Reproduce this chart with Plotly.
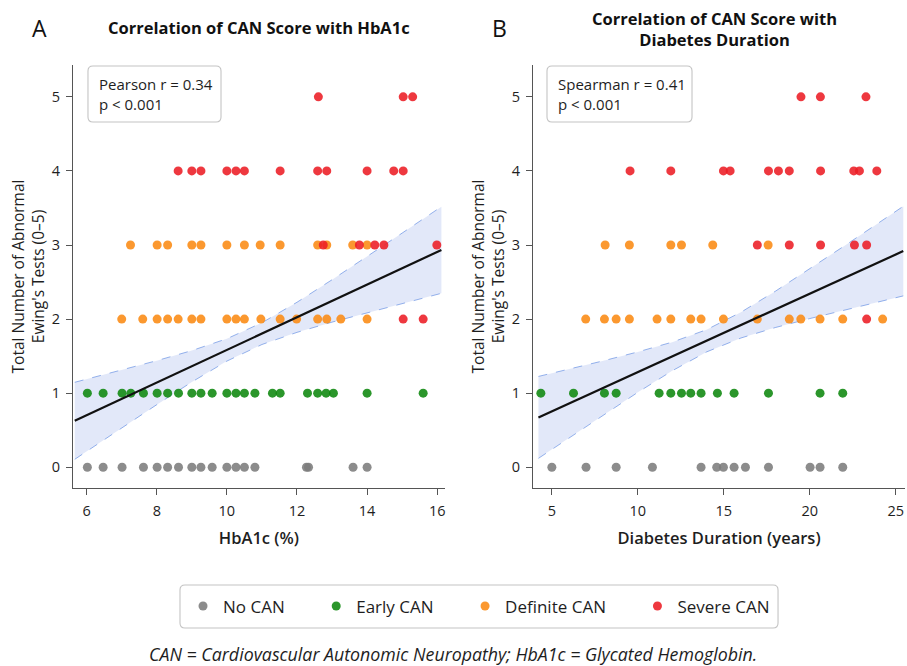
import plotly.graph_objects as go

# ---------------- data ----------------
# Panel A: HbA1c (%) vs number of abnormal Ewing's tests
a_no_can_x = [6.02, 6.47, 7.01, 7.62, 8.01, 8.31, 8.62, 9.0, 9.26, 9.58, 10.0, 10.26, 10.5, 10.8, 12.27, 12.33, 13.6, 14.0]
a_no_can_y = [0] * len(a_no_can_x)

a_early_x = [6.02, 6.47, 7.01, 7.26, 7.62, 8.01, 8.31, 8.62, 9.0, 9.26, 9.58, 10.0, 10.26, 10.5, 10.8, 11.3, 11.52, 12.3, 12.59, 12.83, 13.04, 14.0, 15.6]
a_early_y = [1] * len(a_early_x)

a_def_x = [7.0, 7.6, 8.01, 8.31, 8.61, 9.0, 9.26, 10.0, 10.26, 10.5, 10.97, 11.52, 11.99, 12.59, 12.85, 13.25, 14.0,
           7.25, 8.01, 8.31, 9.0, 9.26, 10.0, 10.5, 10.95, 11.52, 12.59, 12.85, 13.59, 14.0]
a_def_y = [2] * 17 + [3] * 13

a_sev_x = [15.03, 15.6,
           12.75, 13.78, 14.22, 14.48, 15.99,
           8.61, 9.0, 9.26, 10.0, 10.26, 10.5, 11.52, 12.59, 12.85, 14.0, 14.76, 15.03,
           12.61, 15.03, 15.3]
a_sev_y = [2] * 2 + [3] * 5 + [4] * 12 + [5] * 3

# regression line and 95% CI band, panel A
a_fit_x = [5.66, 16.12]
a_fit_y = [0.627, 2.933]
a_ci_x = [5.66, 7, 8, 9, 10, 11, 12, 13, 14, 15, 16.12]
a_ci_hi = [1.147, 1.312, 1.439, 1.575, 1.735, 1.951, 2.227, 2.531, 2.843, 3.161, 3.518]
a_ci_lo = [0.107, 0.532, 0.845, 1.151, 1.433, 1.657, 1.821, 1.959, 2.087, 2.211, 2.348]

# Panel B: diabetes duration (years)
b_no_can_x = [5.0, 6.99, 8.74, 10.85, 13.68, 14.59, 14.98, 15.6, 16.26, 17.6, 20.02, 20.6, 21.92]
b_no_can_y = [0] * len(b_no_can_x)

b_early_x = [4.36, 6.26, 8.06, 8.74, 11.24, 11.92, 12.54, 13.08, 13.68, 14.63, 15.6, 17.6, 20.6, 21.92]
b_early_y = [1] * len(b_early_x)

b_def_x = [6.97, 8.06, 8.74, 9.51, 11.12, 11.92, 13.08, 13.68, 14.98, 16.95, 18.81, 19.48, 20.6, 21.92, 24.24,
           8.1, 9.51, 11.92, 12.54, 14.36, 17.58]
b_def_y = [2] * 15 + [3] * 6

b_sev_x = [23.31,
           16.95, 18.81, 20.63, 22.6, 23.31,
           9.55, 11.92, 14.98, 15.37, 17.6, 18.18, 18.81, 20.63, 22.56, 22.89, 23.9,
           19.49, 20.62, 23.27]
b_sev_y = [2] * 1 + [3] * 5 + [4] * 11 + [5] * 3

b_fit_x = [4.22, 25.44]
b_fit_y = [0.673, 2.918]
b_ci_x = [4.22, 6, 8, 10, 12, 14, 16, 18, 20, 22, 24, 25.44]
b_ci_hi = [1.226, 1.324, 1.437, 1.557, 1.689, 1.857, 2.093, 2.376, 2.677, 2.986, 3.298, 3.523]
b_ci_lo = [0.120, 0.398, 0.707, 1.011, 1.302, 1.557, 1.745, 1.886, 2.007, 2.122, 2.234, 2.313]

group_names = ["No CAN", "Early CAN", "Definite CAN", "Severe CAN"]
group_colors = ["#7c7c7c", "#0e870e", "#fb8a12", "#ec1c24"]

y_ticks = [0, 1, 2, 3, 4, 5]
a_x_ticks = [6, 8, 10, 12, 14, 16]
b_x_ticks = [5, 10, 15, 20, 25]

# ---------------- figure ----------------
FONT = "'Open Sans', 'Noto Sans', 'DejaVu Sans', sans-serif"
TXT = "#1e1e1e"
PW, PH = 832.0, 423.0   # plot-area size in px (for rounded box corners)
fig = go.Figure()

def add_panel(xa, ya, groups, fit_x, fit_y, ci_x, ci_hi, ci_lo, legend):
    fig.add_trace(go.Scatter(x=ci_x, y=ci_hi, mode="lines", xaxis=xa, yaxis=ya,
                             line=dict(color="rgba(70,120,220,0.7)", width=0.8, dash="dash"),
                             showlegend=False, hoverinfo="skip"))
    fig.add_trace(go.Scatter(x=ci_x, y=ci_lo, mode="lines", xaxis=xa, yaxis=ya,
                             line=dict(color="rgba(70,120,220,0.7)", width=0.8, dash="dash"),
                             fill="tonexty", fillcolor="rgba(110,140,225,0.2)",
                             showlegend=False, hoverinfo="skip"))
    pad = "\u00a0" * 6
    for i, ((gx, gy), name, col) in enumerate(zip(groups, group_names, group_colors)):
        label = name + (pad if i < len(group_names) - 1 else "")
        fig.add_trace(go.Scatter(x=gx, y=gy, mode="markers", name=label, xaxis=xa, yaxis=ya,
                                 marker=dict(color=col, size=9, opacity=0.88, line=dict(width=0)),
                                 showlegend=legend, legendgroup=name))
    fig.add_trace(go.Scatter(x=fit_x, y=fit_y, mode="lines", xaxis=xa, yaxis=ya,
                             line=dict(color="#111111", width=2.2),
                             showlegend=False, hoverinfo="skip"))

add_panel("x", "y",
          [(a_no_can_x, a_no_can_y), (a_early_x, a_early_y), (a_def_x, a_def_y), (a_sev_x, a_sev_y)],
          a_fit_x, a_fit_y, a_ci_x, a_ci_hi, a_ci_lo, True)
add_panel("x2", "y2",
          [(b_no_can_x, b_no_can_y), (b_early_x, b_early_y), (b_def_x, b_def_y), (b_sev_x, b_sev_y)],
          b_fit_x, b_fit_y, b_ci_x, b_ci_hi, b_ci_lo, False)

axis_common = dict(showline=True, linecolor="#555555", linewidth=1.2, ticks="outside",
                   ticklen=6, tickcolor="#555555", showgrid=False, zeroline=False, automargin=False,
                   ticklabelstandoff=3, ticklabeloverflow="allow",
                   tickfont=dict(size=14.5, color=TXT, family=FONT))
ytitle = "Total Number of Abnormal<br>Ewing's Tests (0–5)"
ytitle_font = dict(size=15.5, color=TXT, family=FONT)
xtitle_font = dict(size=16.5, color=TXT, family=FONT, weight=600)

fig.update_layout(
    width=907, height=666,
    margin=dict(l=73, r=2, t=65, b=178),
    paper_bgcolor="white", plot_bgcolor="white",
    font=dict(family=FONT, color=TXT),
    xaxis=dict(domain=[0, 0.447], range=[5.61, 16.22], tickvals=a_x_ticks,
               title=dict(text="HbA1c (%)", font=xtitle_font, standoff=13),
               anchor="y", **axis_common),
    yaxis=dict(domain=[0, 1], range=[-0.28, 5.43], tickvals=y_ticks,
               title=dict(text=ytitle, font=ytitle_font, standoff=3),
               anchor="x", **axis_common),
    xaxis2=dict(domain=[0.553, 1.0], range=[3.91, 25.54], tickvals=b_x_ticks,
                title=dict(text="Diabetes Duration (years)", font=xtitle_font, standoff=13),
                anchor="y2", **axis_common),
    yaxis2=dict(domain=[0, 1], range=[-0.28, 5.43], tickvals=y_ticks,
                title=dict(text=ytitle, font=ytitle_font, standoff=3),
                anchor="x2", **axis_common),
    legend=dict(orientation="h", x=0.488, xanchor="center", y=-0.280, yanchor="middle",
                borderwidth=0, bgcolor="rgba(0,0,0,0)",
                font=dict(size=17, color=TXT, family=FONT), itemwidth=30),
    showlegend=True,
)

def rounded_box(x0, y0, x1, y1, r=5):
    rx, ry = r / PW, r / PH
    return (f"M {x0+rx},{y0} L {x1-rx},{y0} Q {x1},{y0} {x1},{y0+ry} "
            f"L {x1},{y1-ry} Q {x1},{y1} {x1-rx},{y1} L {x0+rx},{y1} "
            f"Q {x0},{y1} {x0},{y1-ry} L {x0},{y0+ry} Q {x0},{y0} {x0+rx},{y0} Z")

# legend frame and statistics frames (rounded)
for (x0, y0, x1, y1) in [(0.1286, -0.331, 0.8474, -0.2293),
                         (0.0180, 0.8652, 0.1779, 0.9976),
                         (0.5697, 0.8652, 0.7440, 0.9976)]:
    fig.add_shape(type="path", path=rounded_box(x0, y0, x1, y1), xref="paper", yref="paper",
                  line=dict(color="#c4c4c4", width=1.1), fillcolor="white", layer="above")

annos = [
    dict(text="A", x=-0.0397, y=1.0875, font=dict(size=23, color="#111111", family=FONT, weight=500)),
    dict(text="B", x=0.513, y=1.0875, font=dict(size=23, color="#111111", family=FONT, weight=500)),
    dict(text="<b>Correlation of CAN Score with HbA1c</b>", x=0.2236, y=1.0875,
         font=dict(size=16.5, color="#111111", family=FONT)),
    dict(text="<b>Correlation of CAN Score with<br>Diabetes Duration</b>", x=0.7716, y=1.085,
         font=dict(size=16.5, color="#111111", family=FONT)),
    dict(text="<i>CAN = Cardiovascular Autonomic Neuropathy; HbA1c = Glycated Hemoglobin.</i>",
         x=0.4567, y=-0.393, font=dict(size=17.8, color=TXT, family=FONT)),
]
for a in annos:
    fig.add_annotation(xref="paper", yref="paper", showarrow=False,
                       xanchor="center", yanchor="middle", **a)

for txt, xp in [("Pearson r = 0.34<br>p < 0.001", 0.0288), ("Spearman r = 0.41<br>p < 0.001", 0.5805)]:
    fig.add_annotation(xref="paper", yref="paper", x=xp, y=0.9314, xanchor="left", yanchor="middle",
                       text=txt, showarrow=False, align="left",
                       font=dict(size=15, color=TXT, family=FONT))

# page body margin removed so the 907x666 figure fills the window exactly
fig.write_html("out.html", config={"displayModeBar": False},
               post_script="document.body.style.margin='0px';document.body.style.overflow='hidden';")
